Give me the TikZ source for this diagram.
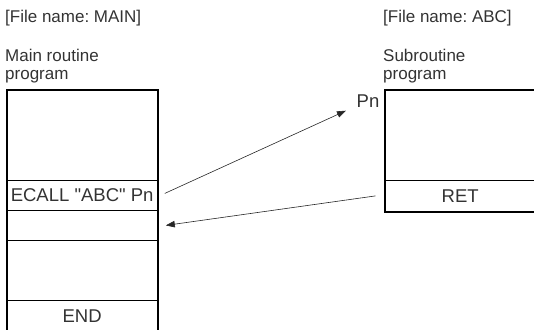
\documentclass[tikz,border=0pt]{standalone}
\usepackage{fontspec}
\setmainfont{Liberation Sans}[Ligatures=TeXOff]
\usetikzlibrary{arrows.meta}
\frenchspacing
\begin{document}
\begin{tikzpicture}[x=1pt, y=-1pt, font=\fontsize{18.5}{20}\selectfont, text=black!80,
  rowbox/.style={draw, line width=0.8pt, minimum width=150.5pt, inner sep=0pt, anchor=north west},
  caption/.style={anchor=base west, inner sep=0pt, font=\fontsize{17}{19}\selectfont},
  link/.style={-{Triangle[length=9pt,width=6.5pt]}, line width=0.6pt, black!85}]
  \useasboundingbox (0,0) rectangle (534,329);
  % main routine program
  \node[caption] (mainfile) at (5,23) {[File name: MAIN]};
  \node[caption] (maintitle) at (5,61) {Main routine};
  \node[caption] (mainprog) at (5,79) {program};
  \foreach \n/\y/\h/\t in {mtop/90/90/{}, ecall/180/30/{ECALL "ABC" Pn},
      mgap/210/30/{}, mbody/240/60/{}, mend/300/32/END}
    \node[rowbox, minimum height=\h pt] (\n) at (6.5,\y) {\t};
  \draw[line width=2pt] (mtop.north west) rectangle (mend.south east);
  % subroutine program
  \node[caption] (subfile) at (383,23) {[File name: ABC]};
  \node[caption] (subtitle) at (383,61) {Subroutine};
  \node[caption] (subprog) at (383,79) {program};
  \foreach \n/\y/\h/\t in {stop/90/90/{}, ret/180/31/RET}
    \node[rowbox, minimum height=\h pt] (\n) at (384.5,\y) {\t};
  \draw[line width=2pt] (stop.north west) rectangle (ret.south east);
  \node[anchor=base east, inner sep=1.5pt] (pn) at (381,107) {Pn};
  % call and return
  \draw[link] ([shift={(7,-2)}]ecall.east) -- ([shift={(-9,2)}]pn.south west);
  \draw[link] ([xshift=-9pt]ret.west) -- ([xshift=8pt]mgap.east);
\end{tikzpicture}
\end{document}
